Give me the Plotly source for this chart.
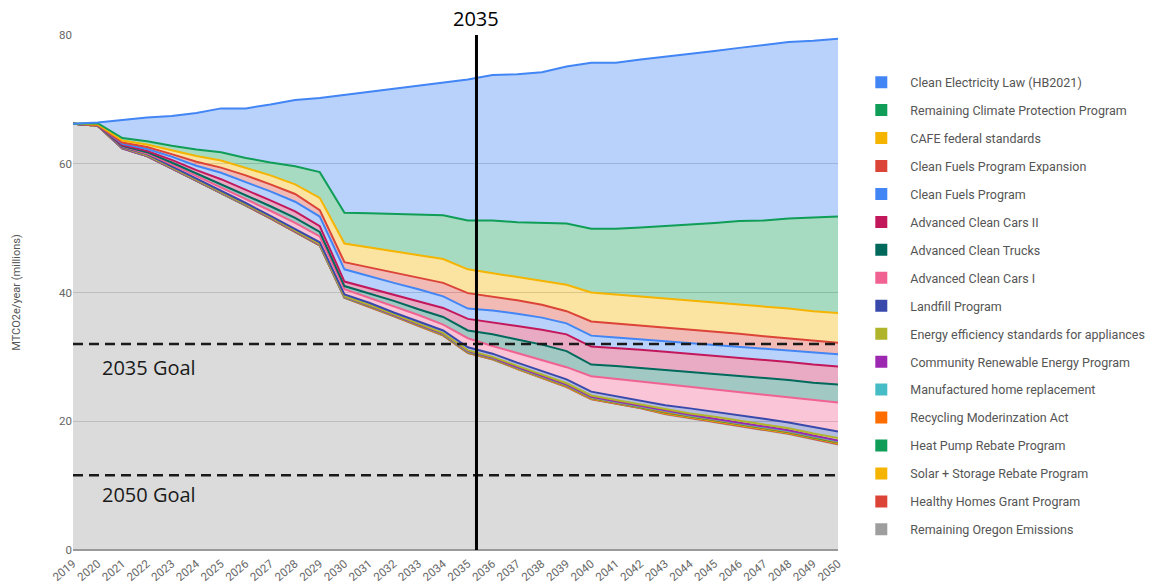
import plotly.graph_objects as go

years = list(range(2019, 2051))
year_labels = [str(y) for y in years]

# Stacked series values (MTCO2e/year, millions), bottom of stack first
remaining_oregon = [66.2, 65.9, 62.4, 61.2, 59.3, 57.4, 55.5, 53.5, 51.5, 49.4, 47.3, 39.2, 37.8, 36.3, 34.8, 33.3,
                    30.6, 29.6, 28.1, 26.7, 25.3, 23.4, 22.7, 22.0, 21.1, 20.5, 19.9, 19.3, 18.7, 18.0, 17.2, 16.4]
healthy_homes = [0, 0, 0, 0, 0, 0, 0.01, 0.01, 0.01, 0.01, 0.01, 0.01, 0.03, 0.03, 0.03, 0.04,
                 0.04, 0.04, 0.04, 0.04, 0.05, 0.05, 0.05, 0.05, 0.07, 0.07, 0.07, 0.07, 0.07, 0.08, 0.08, 0.08]
solar_storage = [0, 0, 0, 0, 0, 0, 0.02, 0.02, 0.02, 0.02, 0.02, 0.02, 0.03, 0.03, 0.03, 0.05,
                 0.05, 0.05, 0.05, 0.05, 0.07, 0.07, 0.07, 0.07, 0.08, 0.08, 0.08, 0.08, 0.08, 0.1, 0.1, 0.1]
heat_pump = [0, 0, 0, 0, 0, 0, 0.02, 0.02, 0.02, 0.02, 0.02, 0.02, 0.04, 0.04, 0.04, 0.06,
             0.06, 0.06, 0.06, 0.06, 0.07, 0.07, 0.07, 0.07, 0.09, 0.09, 0.09, 0.09, 0.09, 0.11, 0.11, 0.11]
recycling = [0, 0, 0, 0, 0, 0, 0.01, 0.01, 0.01, 0.01, 0.01, 0.01, 0.03, 0.03, 0.03, 0.04,
             0.04, 0.04, 0.04, 0.04, 0.06, 0.06, 0.06, 0.06, 0.08, 0.08, 0.08, 0.08, 0.08, 0.09, 0.09, 0.09]
manufactured_home = [0, 0, 0, 0, 0, 0, 0.02, 0.02, 0.02, 0.02, 0.02, 0.02, 0.03, 0.03, 0.03, 0.05,
                     0.05, 0.05, 0.05, 0.05, 0.07, 0.07, 0.07, 0.07, 0.08, 0.08, 0.08, 0.08, 0.08, 0.1, 0.1, 0.1]
community_renewable = [0, 0, 0, 0, 0, 0, 0.02, 0.02, 0.02, 0.02, 0.02, 0.02, 0.04, 0.04, 0.04, 0.06,
                       0.06, 0.06, 0.06, 0.06, 0.08, 0.08, 0.08, 0.08, 0.1, 0.1, 0.1, 0.1, 0.1, 0.12, 0.12, 0.12]
energy_efficiency = [0, 0, 0.1, 0.1, 0.1, 0.1, 0.1, 0.1, 0.1, 0.1, 0.1, 0.1, 0.1, 0.1, 0.1, 0.1,
                     0.1, 0.1, 0.2, 0.2, 0.2, 0.2, 0.2, 0.2, 0.2, 0.2, 0.3, 0.3, 0.3, 0.3, 0.3, 0.4]
landfill = [0, 0.1, 0.1, 0.2, 0.2, 0.2, 0.2, 0.2, 0.2, 0.3, 0.3, 0.3, 0.3, 0.3, 0.4, 0.4,
            0.5, 0.5, 0.5, 0.6, 0.6, 0.6, 0.6, 0.7, 0.7, 0.8, 0.8, 0.8, 0.9, 0.9, 1.0, 1.0]
adv_clean_cars_1 = [0, 0, 0.1, 0.1, 0.3, 0.4, 0.5, 0.7, 0.8, 0.9, 0.9, 0.8, 0.8, 1.0, 1.0, 0.9,
                    1.4, 1.2, 1.5, 1.7, 1.9, 2.4, 2.7, 2.9, 3.2, 3.3, 3.4, 3.6, 3.7, 3.9, 4.2, 4.5]
adv_clean_trucks = [0, 0, 0.1, 0.2, 0.3, 0.4, 0.5, 0.6, 0.7, 0.8, 0.7, 0.5, 0.7, 0.8, 0.9, 1.2,
                    1.2, 1.8, 2.1, 2.4, 2.5, 1.8, 2.0, 2.1, 2.3, 2.4, 2.5, 2.5, 2.6, 2.7, 2.7, 2.8]
adv_clean_cars_2 = [0, 0, 0.1, 0.2, 0.4, 0.5, 0.7, 0.8, 0.9, 1.0, 0.9, 0.7, 0.8, 1.0, 1.3, 1.4,
                    1.8, 1.9, 2.1, 2.3, 2.6, 2.8, 2.8, 2.8, 2.8, 2.8, 2.8, 2.9, 2.9, 2.8, 2.8, 2.8]
clean_fuels = [0, 0, 0.2, 0.3, 0.5, 0.7, 1.0, 1.2, 1.4, 1.5, 1.5, 1.9, 1.8, 1.8, 1.8, 1.8,
               1.6, 1.8, 1.9, 1.9, 1.7, 1.7, 1.6, 1.6, 1.6, 1.6, 1.6, 1.6, 1.7, 1.8, 1.9, 1.9]
clean_fuels_exp = [0, 0, 0.2, 0.3, 0.4, 0.6, 0.8, 1.0, 1.1, 1.2, 1.0, 1.1, 1.4, 1.6, 1.8, 2.1,
                   2.4, 2.2, 2.1, 2.0, 1.9, 2.2, 2.2, 2.2, 2.2, 2.1, 2.1, 2.1, 1.9, 1.9, 1.9, 1.8]
cafe = [0, 0.1, 0.3, 0.4, 0.6, 0.9, 1.1, 1.2, 1.4, 1.5, 1.9, 2.9, 3.1, 3.4, 3.6, 3.7,
        3.7, 3.6, 3.6, 3.8, 4.1, 4.5, 4.5, 4.5, 4.4, 4.5, 4.5, 4.5, 4.6, 4.6, 4.5, 4.6]
remaining_cpp = [0, 0.2, 0.4, 0.5, 0.7, 1.0, 1.3, 1.5, 2.0, 2.8, 4.0, 4.8, 5.3, 5.7, 6.2, 6.8,
                 7.6, 8.2, 8.5, 8.9, 9.5, 9.9, 10.2, 10.7, 11.3, 11.8, 12.4, 13.0, 13.4, 14.0, 14.5, 15.0]
clean_electricity = [0, 0.1, 2.8, 3.7, 4.6, 5.7, 6.8, 7.7, 9.0, 10.3, 11.5, 18.3, 18.9, 19.5, 20.0, 20.6,
                     21.9, 22.6, 23.0, 23.4, 24.4, 25.8, 25.8, 26.1, 26.3, 26.6, 26.7, 26.9, 27.2, 27.4, 27.5, 27.6]

goal_2035 = 32.0
goal_2050 = 11.6
marker_year = 2035.35

# (name, values, color) bottom of stack first
stack = [
    ("Remaining Oregon Emissions", remaining_oregon, "#9e9e9e"),
    ("Healthy Homes Grant Program", healthy_homes, "#db4437"),
    ("Solar + Storage Rebate Program", solar_storage, "#f4b400"),
    ("Heat Pump Rebate Program", heat_pump, "#0f9d58"),
    ("Recycling Moderinzation Act", recycling, "#ff6d01"),
    ("Manufactured home replacement", manufactured_home, "#46bdc6"),
    ("Community Renewable Energy Program", community_renewable, "#9c27b0"),
    ("Energy efficiency standards for appliances", energy_efficiency, "#afb42b"),
    ("Landfill Program", landfill, "#3949ab"),
    ("Advanced Clean Cars I", adv_clean_cars_1, "#f06292"),
    ("Advanced Clean Trucks", adv_clean_trucks, "#00695c"),
    ("Advanced Clean Cars II", adv_clean_cars_2, "#c2185b"),
    ("Clean Fuels Program", clean_fuels, "#4285f4"),
    ("Clean Fuels Program Expansion", clean_fuels_exp, "#db4437"),
    ("CAFE federal standards", cafe, "#f4b400"),
    ("Remaining Climate Protection Program", remaining_cpp, "#0f9d58"),
    ("Clean Electricity Law (HB2021)", clean_electricity, "#4285f4"),
]


def rgba(hex_color, a):
    h = hex_color.lstrip("#")
    r, g, b = int(h[0:2], 16), int(h[2:4], 16), int(h[4:6], 16)
    return f"rgba({r},{g},{b},{a})"


fig = go.Figure()
for name, vals, col in stack:
    fig.add_trace(go.Scatter(
        x=years, y=vals, name=name, legendgroup=name, showlegend=False,
        mode="lines", stackgroup="one",
        line=dict(color=col, width=2),
        fillcolor=rgba(col, 0.37),
        hovertemplate="%{x}: %{y}<extra>" + name + "</extra>",
    ))

# legend entries (top of stack listed first)
for name, vals, col in reversed(stack):
    fig.add_trace(go.Scatter(
        x=[None], y=[None], name=name, legendgroup=name, showlegend=True,
        mode="markers", marker=dict(symbol="square", size=12, color=col),
    ))

fig.add_shape(type="line", xref="x", yref="y", x0=2019, x1=2050, y0=goal_2035, y1=goal_2035,
              line=dict(color="#1a1a1a", width=2.5, dash="10px,6px"))
fig.add_shape(type="line", xref="x", yref="y", x0=2019, x1=2050, y0=goal_2050, y1=goal_2050,
              line=dict(color="#1a1a1a", width=2.5, dash="10px,6px"))
fig.add_shape(type="line", xref="x", yref="y", x0=marker_year, x1=marker_year, y0=0, y1=80,
              line=dict(color="black", width=3))

fig.add_annotation(x=marker_year, y=80, xref="x", yref="y", text="2035", showarrow=False,
                   yanchor="bottom", yshift=1, font=dict(family="Open Sans", size=20, color="black"))
fig.add_annotation(x=2020.08, y=28.3, xref="x", yref="y", text="2035 Goal", showarrow=False,
                   xanchor="left", yanchor="middle", font=dict(family="Open Sans", size=20, color="#1a1a1a"))
fig.add_annotation(x=2020.08, y=8.6, xref="x", yref="y", text="2050 Goal", showarrow=False,
                   xanchor="left", yanchor="middle", font=dict(family="Open Sans", size=20, color="#1a1a1a"))

fig.update_layout(
    width=1173, height=587,
    margin=dict(l=73, r=335, t=35, b=37, autoexpand=False),
    paper_bgcolor="white", plot_bgcolor="white",
    font=dict(family="Roboto", size=11, color="#444"),
    showlegend=True,
    legend=dict(
        xref="container", yref="container", x=0.7266, y=0.885, xanchor="left", yanchor="top",
        font=dict(family="Roboto", size=12.5, color="#555"),
        itemwidth=48, tracegroupgap=8.7, bgcolor="rgba(0,0,0,0)", maxheight=580,
    ),
    xaxis=dict(
        range=[2019, 2050], tickmode="array", tickvals=years, ticktext=year_labels,
        tickangle=-40, showgrid=False, zeroline=False, showline=False, ticks="",
        tickfont=dict(size=11.5, color="#666"), automargin=False, ticklabelstandoff=4,
    ),
    yaxis=dict(
        range=[0, 80], tickvals=[0, 20, 40, 60, 80], showgrid=True, gridcolor="#d0d0d0",
        gridwidth=1, zeroline=True, zerolinecolor="#999", zerolinewidth=2, ticks="",
        tickfont=dict(size=11.5, color="#666"), automargin=False,
        title=dict(text="MTCO2e/year (millions)", font=dict(size=11, color="#555"), standoff=36),
    ),
)

fig.write_html("out.html", config={"displayModeBar": False},
               post_script="document.body.style.margin='0';")
